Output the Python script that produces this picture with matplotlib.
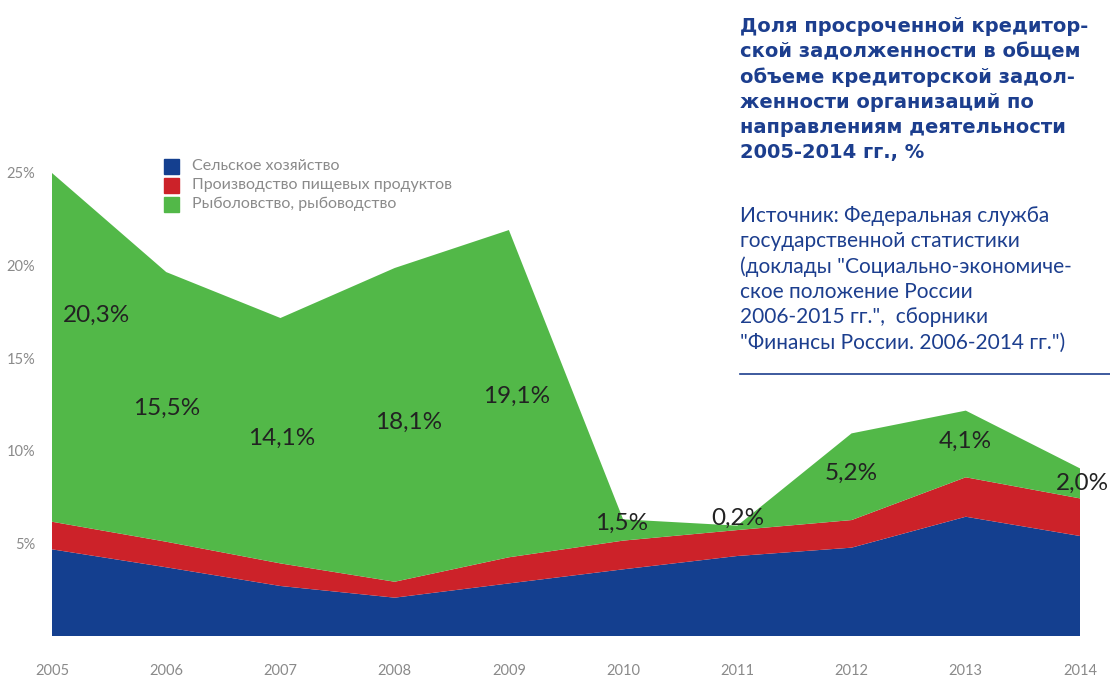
import numpy as np
import matplotlib.pyplot as plt

# data (% of total payables)
years = [2005, 2006, 2007, 2008, 2009, 2010, 2011, 2012, 2013, 2014]
agri = [4.68, 3.71, 2.70, 2.07, 2.84, 3.60, 4.32, 4.77, 6.44, 5.40]
food = [1.49, 1.38, 1.22, 0.86, 1.41, 1.55, 1.40, 1.49, 2.13, 2.03]
fish = [18.83, 14.56, 13.25, 16.94, 17.67, 1.15, 0.24, 4.68, 3.60, 1.62]
fish_labels = ["20,3%", "15,5%", "14,1%", "18,1%", "19,1%",
               "1,5%", "0,2%", "5,2%", "4,1%", "2,0%"]
series_names = ["Сельское хозяйство", "Производство пищевых продуктов",
                "Рыболовство, рыбоводство"]
yticks = [5, 10, 15, 20, 25]

blue = "#143f8f"
red = "#cc2229"
green = "#52b848"
grey = "#8a8a8a"
title_col = "#1c3e8e"

W, H = 1110, 679
fig = plt.figure(figsize=(W / 100, H / 100), dpi=100)
ax = fig.add_axes([52 / W, 1 - 636 / H, 1028 / W, 463 / H])

ax.stackplot(years, agri, food, fish, colors=[blue, red, green], linewidth=0)
ax.set_xlim(2005, 2014)
ax.set_ylim(0, 25)

for s in ax.spines.values():
    s.set_visible(False)
ax.set_yticks(yticks)
ax.set_yticklabels([f"{t}%" for t in yticks])
ax.set_xticks(years)
ax.tick_params(length=0, labelsize=10.5, labelcolor=grey)
ax.tick_params(axis="y", pad=12)
ax.tick_params(axis="x", pad=20)
for lbl in ax.get_xticklabels() + ax.get_yticklabels():
    lbl.set_fontfamily("Lato")

# labels for the fishing series
lab_x = [2005.39, 2006.0, 2007.01, 2008.12, 2009.07, 2009.99, 2011.0, 2012.0, 2013.0, 2014.02]
lab_y = [17.33, 12.31, 10.69, 11.56, 12.96, 6.10, 6.37, 8.80, 10.53, 8.26]
for x, y, t in zip(lab_x, lab_y, fish_labels):
    ax.text(x, y, t, ha="center", va="center", fontsize=17.5, color="#222222",
            family="Lato", clip_on=False)

# legend
leg_y = [166, 185, 204]
for yy, col, name in zip(leg_y, [blue, red, green], series_names):
    fig.patches.append(plt.Rectangle((164 / W, 1 - (yy + 8) / H), 15 / W, 15 / H,
                                     transform=fig.transFigure, color=col))
    fig.text(192 / W, 1 - yy / H, name, fontsize=11.5, color=grey, va="center",
             family="Lato")

title = ("Доля просроченной кредитор-\nской задолженности в общем\n"
         "объеме кредиторской задол-\nженности организаций по\n"
         "направлениям деятельности\n2005-2014 гг., %")
fig.text(740 / W, 1 - 17 / H, title, fontsize=14, fontweight="bold",
         color=title_col, va="top", linespacing=1.40, family="DejaVu Sans")

source = ("Источник: Федеральная служба\nгосударственной статистики\n"
          "(доклады \"Социально-экономиче-\nское положение России\n"
          "2006-2015 гг.\",  сборники\n\"Финансы России. 2006-2014 гг.\")")
fig.text(740 / W, 1 - 206 / H, source, fontsize=15, color=title_col,
         va="top", linespacing=1.32, family="Lato")

fig.add_artist(plt.Line2D([740 / W, 1], [1 - 374 / H, 1 - 374 / H],
                          color=title_col, linewidth=1.2))

fig.savefig("out.png", dpi=100)
